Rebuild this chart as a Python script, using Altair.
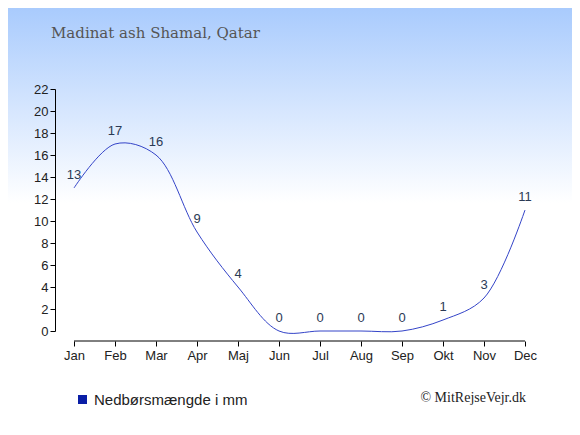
import altair as alt
import pandas as pd

months = ["Jan", "Feb", "Mar", "Apr", "Maj", "Jun", "Jul", "Aug", "Sep", "Okt", "Nov", "Dec"]
rain = [13, 17, 16, 9, 4, 0, 0, 0, 0, 1, 3, 11]
y_ticks = [0, 2, 4, 6, 8, 10, 12, 14, 16, 18, 20, 22]
series_name = "Nedbørsmængde i mm"
title_text = "Madinat ash Shamal, Qatar"
credit_text = "© MitRejseVejr.dk"

df = pd.DataFrame({"idx": list(range(len(months))), "month": months, "rain": rain,
                   "series": [series_name] * len(months)})

W, H = 470, 242
PL, PT, PR, PB = 47, 81, 47, 96

xscale = alt.Scale(domain=[-19 / 41, 11], nice=False, zero=False)
yscale = alt.Scale(domain=[0, 22], nice=False)

label_expr = "[" + ",".join(f"'{m}'" for m in months) + "][datum.value]"

xaxis = alt.Axis(values=list(range(12)), labelExpr=label_expr, domain=False,
                 grid=False, offset=10, tickSize=5, tickColor="#000",
                 labelColor="#222", labelFontSize=13, labelFont="Liberation Sans",
                 labelPadding=3, title=None, zindex=1, labelOverlap=False,
                 labelFlush=False, labelBound=False)
yaxis = alt.Axis(values=y_ticks, tickCount=12, grid=False, domainColor="#000",
                 tickColor="#000", tickSize=5, labelColor="#222", labelFontSize=13,
                 labelFont="Liberation Sans", labelPadding=2, title=None, zindex=1,
                 labelOverlap=False, labelFlush=False, labelBound=False)

bg = alt.Chart(pd.DataFrame({"a": [0]})).mark_rect(
    color=alt.Gradient(
        gradient="linear",
        stops=[alt.GradientStop(color="#a9cbfd", offset=0),
               alt.GradientStop(color="#ffffff", offset=0.465),
               alt.GradientStop(color="#ffffff", offset=1)],
        x1=0, x2=0, y1=0, y2=1),
).encode(x=alt.value(-PL), x2=alt.value(W + PR), y=alt.value(-PT), y2=alt.value(H + PB))

base = alt.Chart(df)

line = base.mark_line(interpolate="catmull-rom", strokeWidth=1).encode(
    x=alt.X("idx:Q", scale=xscale, axis=xaxis),
    y=alt.Y("rain:Q", scale=yscale, axis=yaxis),
    color=alt.Color("series:N", scale=alt.Scale(range=["#3444c8"]),
                    legend=alt.Legend(title=None, orient="none", legendX=20, legendY=303,
                                      symbolType="square", symbolFillColor="#0a1ea6",
                                      symbolStrokeColor="#0a1ea6", symbolStrokeWidth=0,
                                      symbolSize=81, labelFontSize=15, labelColor="#222",
                                      labelFont="Liberation Sans", labelOffset=4,
                                      zindex=1)),
)

labels = base.mark_text(baseline="bottom", dy=-6, fontSize=13, color="#2b3a55",
                        font="Liberation Sans").encode(
    x=alt.X("idx:Q", scale=xscale, axis=xaxis),
    y=alt.Y("rain:Q", scale=yscale, axis=yaxis), text="rain:Q")

xline = alt.Chart(pd.DataFrame({"a": [0]})).mark_rule(color="#000", strokeWidth=1).encode(
    x=alt.datum(0, scale=xscale), x2=alt.datum(11), y=alt.value(H + 10))

credit = alt.Chart(pd.DataFrame({"t": [credit_text]})).mark_text(
    align="right", baseline="middle", fontSize=14, font="Liberation Serif", color="#222"
).encode(x=alt.value(471), y=alt.value(309), text="t:N")

title = alt.Chart(pd.DataFrame({"t": [title_text]})).mark_text(
    align="left", baseline="alphabetic", fontSize=15, font="DejaVu Serif", color="#555"
).encode(x=alt.value(-4), y=alt.value(-51), text="t:N")

chart = alt.layer(bg, line, labels, xline, credit, title).properties(
    width=W, height=H,
    padding={"left": PL, "top": PT, "right": PR, "bottom": PB},
    autosize=alt.AutoSizeParams(type="none"),
).configure_view(stroke=None)

chart.save("out.html", embed_options={"renderer": "svg", "actions": False})
